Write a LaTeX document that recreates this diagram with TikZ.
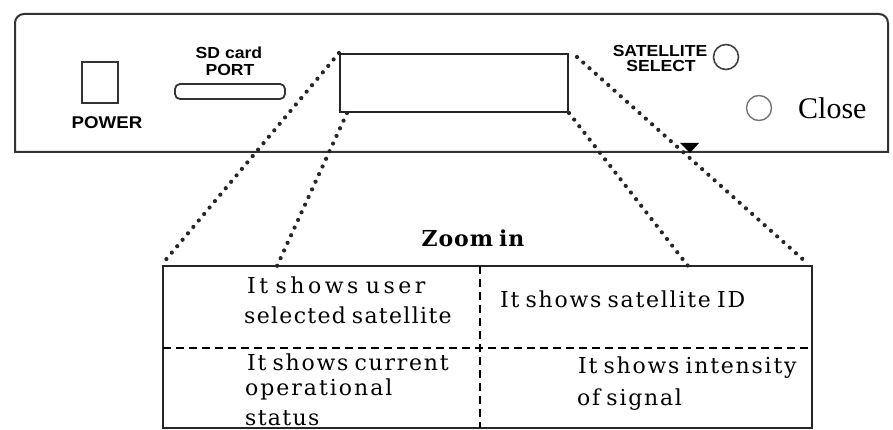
\documentclass[tikz,border=0pt]{standalone}
\usepackage{fontspec}
\setmainfont{DejaVu Serif}
\newfontfamily\boxfont[LetterSpace=8,WordSpace=0.7]{DejaVu Serif}
\newfontfamily\panelfont[FakeStretch=1.1]{Liberation Sans}
\newfontfamily\closefont{Liberation Serif}
\newcommand\lsp[1]{\addfontfeature{LetterSpace=#1}}
\begin{document}
\begin{tikzpicture}[x=1pt,y=-1pt,
  panel/.style={draw=black!80, line width=2pt},
  lbl/.style={inner sep=0pt, anchor=base, font=\panelfont\bfseries\fontsize{16}{16}\selectfont},
  txt/.style={inner sep=0pt, anchor=base west, font=\boxfont\fontsize{22}{25}\selectfont},
  dots/.style={line width=4.2pt, line cap=round, dash pattern=on 0pt off 8.4pt, black!85},
  divider/.style={line width=2.2pt, dash pattern=on 8pt off 5pt},
  knob/.style={circle, draw, inner sep=0pt, minimum size=25pt},
]
\useasboundingbox (0,0) rectangle (893,430);
% outer panel
\draw[panel] (15,152) [rounded corners=9pt] -- (15,14) -- (888,14) [sharp corners] -- (888,152) -- cycle;
% power
\node[panel, inner sep=0pt, minimum width=36pt, minimum height=41pt] (pwr) at (100,82.5) {};
\node[lbl, font=\panelfont\bfseries\fontsize{17}{17}\selectfont] (pwrl) at (107,129) {POWER};
% sd slot
\node[draw=black!80, line width=1.8pt, rounded corners=5pt, inner sep=0pt, minimum width=110pt, minimum height=15pt] (slot) at (230,91.5) {};
\node[lbl] (sd1) at (229,59) {SD card};
\node[lbl] (sd2) at (230,76) {PORT};
% display
\node[draw=black!85, line width=2pt, inner sep=0pt, minimum width=228pt, minimum height=58pt] (disp) at (454,83) {};
% satellite select
\node[lbl] (sat1) at (660,57) {SATELLITE};
\node[lbl] (sat2) at (661,72) {SELECT};
\node[knob, draw=black!75, line width=1.6pt] (satk) at (726,57) {};
\node[knob, draw=black!55, line width=1.4pt] (closek) at (759,108) {};
\node[inner sep=0pt, anchor=base west, font=\closefont\fontsize{30}{30}\selectfont] (closel) at (798,119) {Close};
% zoom box
\node[draw=black!85, line width=2.6pt, inner sep=0pt, minimum width=649pt, minimum height=162pt] (zbox) at (487.5,347) {};
\coordinate (hl) at (163,348);
\coordinate (hr) at (812,348);
\coordinate (vt) at (480,266);
\coordinate (vb) at (480,428);
\draw[divider] (hl) -- (hr);
\draw[divider] (vt) -- (vb);
% dotted connectors
\coordinate (d2a) at (347,113);
\coordinate (d2b) at (277,266);
\coordinate (d3b) at (688,266);
\coordinate (d4a) at (577,57);
\coordinate (d4b) at (808,264);
\draw[dots] (disp.north west) -- (zbox.north west);
\draw[dots] (d2a) -- (d2b);
\draw[dots] (disp.south east) -- (d3b);
\draw[dots] (d4a) -- (d4b);
\fill[black] (680,143) -- (699,143) -- (690,153) -- cycle;
% texts
\node[txt, anchor=base, font=\boxfont\bfseries\fontsize{22}{25}\selectfont\lsp{4}] (zoom) at (473,247) {Zoom in};
\node[txt, font=\boxfont\fontsize{22}{25}\selectfont\lsp{16}] (t1a) at (247,293) {It shows user};
\node[txt, font=\boxfont\fontsize{22}{25}\selectfont\lsp{6}] (t1b) at (244,323) {selected satellite};
\node[txt] (t3a) at (247,370) {It shows current};
\node[txt, font=\boxfont\fontsize{22}{25}\selectfont\lsp{9}] (t3b) at (245,395) {operational};
\node[txt, font=\boxfont\fontsize{22}{25}\selectfont\lsp{6}] (t3c) at (245,425) {status};
\node[txt] (t2a) at (500,307) {It shows satellite ID};
\node[txt] (t4a) at (578,373) {It shows intensity};
\node[txt] (t4b) at (577,405) {of signal};
\end{tikzpicture}
\end{document}
